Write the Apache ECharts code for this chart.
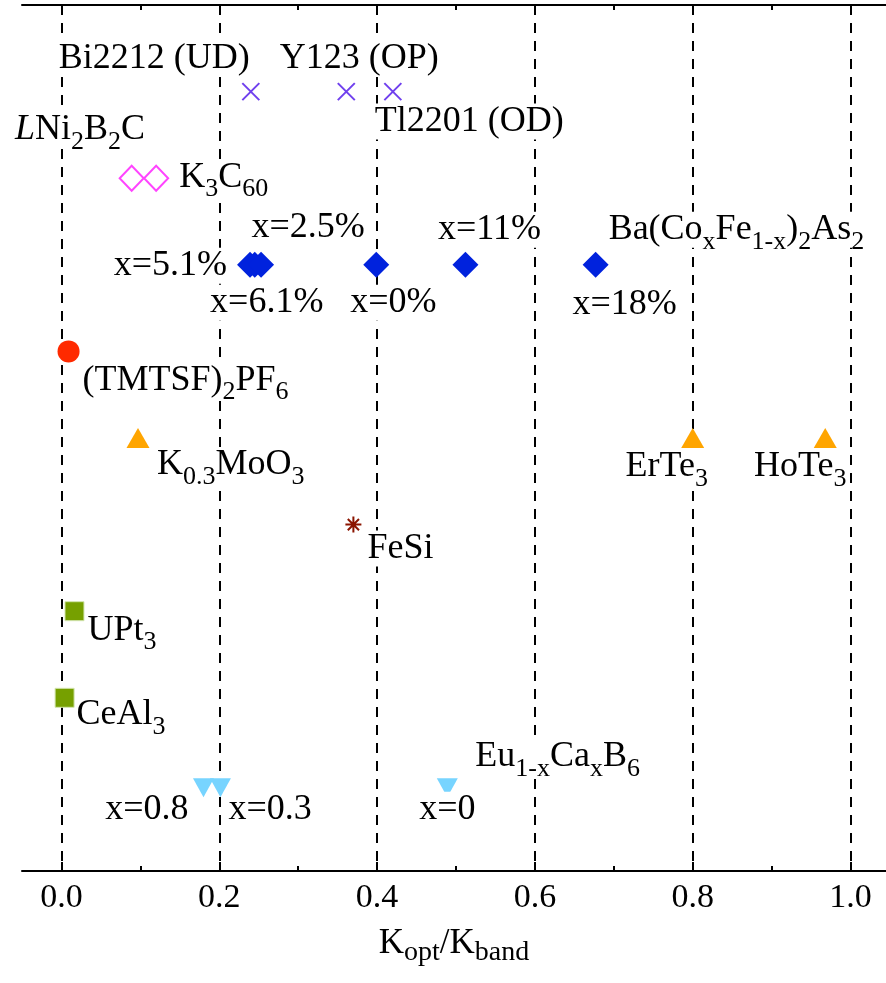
<!DOCTYPE html>
<html lang="en">
<head>
    <meta charset="UTF-8">
    <title>Kopt/Kband</title>
    <script src="https://cdn.jsdelivr.net/npm/echarts@6/dist/echarts.min.js"></script>
    <style>
        html, body { margin: 0; padding: 0; background: #fff; }
    </style>
</head>
<body>
    <div id="chart" style="width: 886px; height: 983px;"></div>

    <script>
        // tick values
        var majorTicks = [0, 0.2, 0.4, 0.6, 0.8, 1.0];
        var minorTicks = [0.1, 0.3, 0.5, 0.7, 0.9];

        // rows (top to bottom)
        var rowCuprate = 1, rowK3C60 = 2, rowPnictide = 3, rowTMTSF = 4, rowTellurium = 5,
            rowFeSi = 6, rowUPt3 = 7, rowCeAl3 = 8, rowHexaboride = 9.04;

        // Kopt/Kband values
        var cuprateX = [0.24, 0.361, 0.42];
        var cuprateNames = ['Bi2212 (UD)', 'Y123 (OP)', 'Tl2201 (OD)'];
        var k3c60X = [0.089, 0.12];
        var borocarbideX = [0.0235];
        var borocarbideRow = 1.44;
        var pnictideX = [0.239, 0.245, 0.253, 0.399, 0.512, 0.677];
        var pnictideDoping = ['x=5.1%', 'x=6.1%', 'x=2.5%', 'x=0%', 'x=11%', 'x=18%'];
        var tmtsfX = [0.009];
        var telluriumX = [0.097, 0.80, 0.968];
        var telluriumNames = ['K{s|0.3}MoO{s|3}', 'ErTe{s|3}', 'HoTe{s|3}'];
        var fesiX = [0.37];
        var upt3X = [0.0165];
        var ceal3X = [0.004];
        var hexaborideX = [0.18, 0.2015, 0.489];
        var hexaborideDoping = ['x=0.8', 'x=0.3', 'x=0'];

        var FONT = 'Liberation Serif';
        var RICH = {
            s: { fontSize: 26, fontFamily: FONT, color: '#000', padding: [12, 0, -12, 0] },
            i: { fontSize: 36, fontFamily: FONT, color: '#000', fontStyle: 'italic' }
        };

        function lab(text, align, dx, dy) {
            return {
                show: true,
                position: 'inside',
                formatter: text,
                align: align,
                verticalAlign: 'middle',
                offset: [dx, dy],
                fontFamily: FONT,
                fontSize: 36,
                color: '#000',
                backgroundColor: '#fff',
                rich: RICH
            };
        }

        function pts(xs, row, labels) {
            return xs.map(function (x, i) {
                var d = { value: [x, row] };
                if (labels && labels[i]) d.label = labels[i];
                return d;
            });
        }

        var chart = echarts.init(document.getElementById('chart'));

        function xAxisBase(pos, ticks, len, showLine) {
            return {
                type: 'value',
                position: pos,
                min: -0.05,
                max: 1.045,
                axisLine: { show: showLine, onZero: false, lineStyle: { color: '#000', width: 2 } },
                axisTick: { show: true, inside: true, length: len, customValues: ticks, lineStyle: { color: '#000', width: 2 } },
                axisLabel: { show: false },
                splitLine: { show: false }
            };
        }

        var bottomMajor = xAxisBase('bottom', majorTicks, 9, true);
        bottomMajor.axisLabel = {
            show: true,
            customValues: majorTicks,
            formatter: function (v) { return v.toFixed(1); },
            fontFamily: FONT,
            fontSize: 34,
            color: '#000',
            margin: 10
        };
        bottomMajor.name = '{m|K}{s|opt}{m|/K}{s|band}';
        bottomMajor.nameLocation = 'middle';
        bottomMajor.nameGap = 55;
        bottomMajor.nameTextStyle = {
            rich: {
                m: { fontSize: 35, fontFamily: FONT, color: '#000' },
                s: { fontSize: 28, fontFamily: FONT, color: '#000', padding: [9, 0, -9, 0] }
            }
        };

        var options = {
            animation: false,
            grid: { left: 22, right: 0, top: 5, bottom: 112 },
            xAxis: [
                bottomMajor,
                xAxisBase('bottom', minorTicks, 5, false),
                xAxisBase('top', majorTicks, 9, true),
                xAxisBase('top', minorTicks, 5, false)
            ],
            yAxis: {
                type: 'value',
                min: 0,
                max: 10,
                inverse: true,
                show: false
            },
            series: [
                {
                    // dashed guide lines
                    type: 'scatter',
                    z: 1,
                    data: [],
                    markLine: {
                        silent: true,
                        z: 1,
                        symbol: 'none',
                        label: { show: false },
                        lineStyle: { color: '#000', width: 2, type: [10, 8] },
                        data: majorTicks.map(function (v) { return { xAxis: v }; })
                    }
                },
                {
                    name: 'cuprates',
                    type: 'scatter',
                    z: 3,
                    symbol: 'path://M0,0L10,10M10,0L0,10',
                    symbolSize: 17,
                    itemStyle: { opacity: 1, color: 'rgba(0,0,0,0)', borderColor: '#7040ee', borderWidth: 2 },
                    data: pts(cuprateX, rowCuprate, [
                        lab(cuprateNames[0], 'right', -1, -33),
                        lab(cuprateNames[1], 'center', 13, -33),
                        lab(cuprateNames[2], 'left', -18, 30)
                    ])
                },
                {
                    name: 'borocarbide',
                    type: 'scatter',
                    z: 3,
                    symbolSize: 0,
                    itemStyle: { opacity: 1 },
                    data: pts(borocarbideX, borocarbideRow, [
                        lab('{i|L}Ni{s|2}B{s|2}C', 'center', 0, 0)
                    ])
                },
                {
                    name: 'K3C60',
                    type: 'scatter',
                    z: 3,
                    symbol: 'diamond',
                    symbolSize: [24, 25],
                    itemStyle: { opacity: 1, color: 'rgba(0,0,0,0)', borderColor: '#ff44ff', borderWidth: 2 },
                    data: pts(k3c60X, rowK3C60, [null, lab('K{s|3}C{s|60}', 'left', 23, -1)])
                },
                {
                    name: 'pnictides',
                    type: 'scatter',
                    z: 3,
                    symbol: 'diamond',
                    symbolSize: [26, 26],
                    itemStyle: { opacity: 1, color: '#0022dd' },
                    data: pts(pnictideX, rowPnictide, [
                        lab(pnictideDoping[0], 'right', -23, 1),
                        lab(pnictideDoping[1], 'center', 12, 38),
                        lab(pnictideDoping[2], 'center', 47, -37),
                        lab(pnictideDoping[3], 'center', 17, 38),
                        lab(pnictideDoping[4], 'center', 24, -35),
                        lab(pnictideDoping[5], 'center', 29, 40)
                    ])
                },
                {
                    name: 'pnictide name',
                    type: 'scatter',
                    z: 3,
                    symbolSize: 0,
                    itemStyle: { opacity: 1 },
                    data: pts([pnictideX[5]], rowPnictide, [
                        lab('Ba(Co{s|x}Fe{s|1-x}){s|2}As{s|2}', 'left', 13, -35)
                    ])
                },
                {
                    name: 'TMTSF',
                    type: 'scatter',
                    z: 3,
                    symbol: 'circle',
                    symbolSize: 22,
                    itemStyle: { opacity: 1, color: '#ff2a00' },
                    data: pts(tmtsfX, rowTMTSF, [lab('(TMTSF){s|2}PF{s|6}', 'left', 14, 29)])
                },
                {
                    name: 'tellurides',
                    type: 'scatter',
                    z: 3,
                    symbol: 'triangle',
                    symbolSize: [23, 20],
                    itemStyle: { opacity: 1, color: '#ffa500' },
                    data: pts(telluriumX, rowTellurium, [
                        lab(telluriumNames[0], 'left', 19, 27),
                        lab(telluriumNames[1], 'center', -26, 29),
                        lab(telluriumNames[2], 'center', -25, 29)
                    ])
                },
                {
                    name: 'FeSi',
                    type: 'scatter',
                    z: 3,
                    symbol: 'path://M0,5L10,5M5,0L5,10M1.5,1.5L8.5,8.5M8.5,1.5L1.5,8.5',
                    symbolSize: 16,
                    itemStyle: { opacity: 1, color: 'rgba(0,0,0,0)', borderColor: '#8b1500', borderWidth: 2 },
                    data: pts(fesiX, rowFeSi, [lab('FeSi', 'left', 14, 24)])
                },
                {
                    name: 'UPt3',
                    type: 'scatter',
                    z: 3,
                    symbol: 'rect',
                    symbolSize: 19,
                    itemStyle: { opacity: 1, color: '#76a000', borderColor: '#d4e6b0', borderWidth: 1 },
                    data: pts(upt3X, rowUPt3, [lab('UPt{s|3}', 'left', 13, 19)])
                },
                {
                    name: 'CeAl3',
                    type: 'scatter',
                    z: 3,
                    symbol: 'rect',
                    symbolSize: 19,
                    itemStyle: { opacity: 1, color: '#76a000', borderColor: '#d4e6b0', borderWidth: 1 },
                    data: pts(ceal3X, rowCeAl3, [lab('CeAl{s|3}', 'left', 12, 17)])
                },
                {
                    name: 'hexaborides',
                    type: 'scatter',
                    z: 3,
                    symbol: 'triangle',
                    symbolRotate: 180,
                    symbolSize: [21, 19],
                    itemStyle: { opacity: 1, color: '#77d4ff' },
                    data: pts(hexaborideX, rowHexaboride, [
                        lab(hexaborideDoping[0], 'right', -15, 22),
                        lab(hexaborideDoping[1], 'left', 8, 22),
                        lab(hexaborideDoping[2], 'center', 0, 22)
                    ])
                },
                {
                    name: 'hexaboride name',
                    type: 'scatter',
                    z: 3,
                    symbolSize: 0,
                    itemStyle: { opacity: 1 },
                    data: pts([hexaborideX[2]], rowHexaboride, [
                        lab('Eu{s|1-x}Ca{s|x}B{s|6}', 'left', 28, -31)
                    ])
                }
            ]
        };

        chart.setOption(options);
    </script>
</body>
</html>
